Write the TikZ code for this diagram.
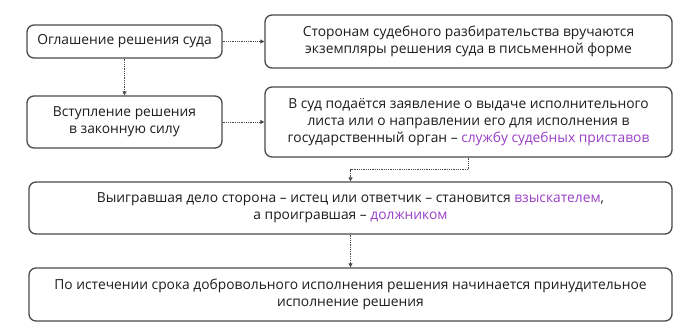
\documentclass[tikz,border=0pt]{standalone}
\usepackage{fontspec}
\setmainfont{Open Sans}
\usepackage{xcolor}
\usetikzlibrary{arrows.meta,positioning}
\definecolor{textgray}{HTML}{1C1C1C}
\definecolor{linegray}{HTML}{4A4A4A}
\definecolor{accent}{HTML}{9A3FC7}
\newcommand{\hl}[1]{\textcolor{accent}{#1}}

\begin{document}
\begin{tikzpicture}[
    x=1pt, y=-1pt,
    box/.style={draw=linegray,line width=1.3pt,rounded corners=7pt,align=center,
        text=textgray,font=\fontsize{13.8}{17}\selectfont,inner sep=0pt},
    arrow/.style={-{Triangle[length=4pt,width=4pt]},line width=0.8pt,draw=linegray,
        dash pattern=on 0.9pt off 0.9pt}
]
\useasboundingbox (0,0) rectangle (698,332);
\node[box,minimum width=195pt,minimum height=33pt] (decl) at (124.5,41.5)
    {Оглашение решения суда};
\node[box,minimum width=195pt,minimum height=52pt] (entry) at (124.5,122)
    {Вступление решения\\в законную силу};
\node[box,minimum width=407pt,minimum height=53pt] (copies) at (468.5,41.5)
    {Сторонам судебного разбирательства вручаются\\экземпляры решения суда в письменной форме};
\node[box,minimum width=407pt,minimum height=70pt] (writ) at (468.5,122)
    {В суд подаётся заявление о выдаче исполнительного\\листа или о направлении его для исполнения в\\государственный орган – \hl{службу судебных приставов}};
\node[box,minimum width=643pt,minimum height=52pt] (roles) at (350.5,208)
    {Выигравшая дело сторона – истец или ответчик – становится \hl{взыскателем},\\а проигравшая – \hl{должником}};
\node[box,minimum width=643pt,minimum height=53pt] (forced) at (350.5,294.5)
    {По истечении срока добровольного исполнения решения начинается принудительное\\исполнение решения};
\draw[arrow] (decl) -- (copies);
\draw[arrow] (decl) -- (entry);
\draw[arrow] (entry) -- (writ);
\draw[arrow] (writ.south) -- ++(0,12) -| (roles.north);
\draw[arrow] (roles) -- (forced);
\end{tikzpicture}
\end{document}
